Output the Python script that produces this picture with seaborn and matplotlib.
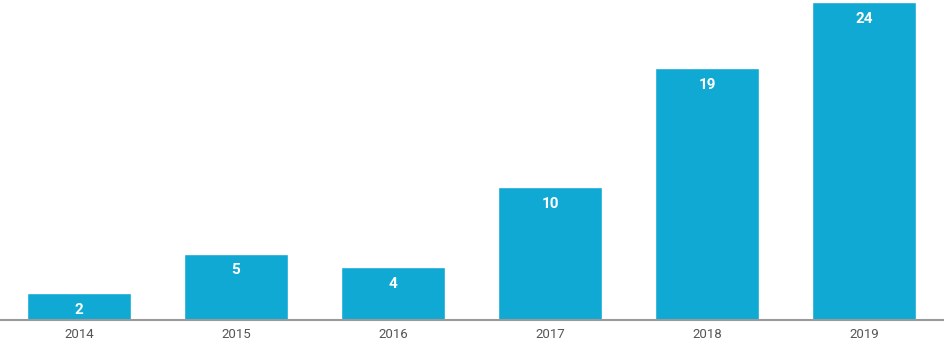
import matplotlib
matplotlib.use("Agg")
import matplotlib.pyplot as plt
import seaborn as sns
import pandas as pd

# data
years = ["2014", "2015", "2016", "2017", "2018", "2019"]
counts = [2, 5, 4, 10, 19, 24]

bar_color = "#10a9d3"

sns.set_theme(style="white")
plt.rcParams["font.family"] = ["Roboto", "DejaVu Sans"]

df = pd.DataFrame({"year": years, "count": counts})

fig = plt.figure(figsize=(9.45, 3.44), dpi=100)
ax = fig.add_axes([0, 24 / 344, 1, 320 / 344])

sns.barplot(data=df, x="year", y="count", color=bar_color, width=0.66,
            saturation=1, ax=ax)

# value labels inside the top of each bar
for i, v in enumerate(counts):
    ax.annotate(str(v), (i, v), xytext=(0, -7), textcoords="offset points",
                ha="center", va="top", color="white", fontsize=11,
                fontweight="bold")

ax.set_xlim(-0.503, 5.516)
ax.set_ylim(0, 24.15)
ax.set_xlabel("")
ax.set_ylabel("")
ax.set_yticks([])
ax.tick_params(axis="x", length=0, pad=6, labelsize=9.5, labelcolor="#555555")

for side in ["top", "left", "right"]:
    ax.spines[side].set_visible(False)
ax.spines["bottom"].set_color("#9a9a9a")
ax.spines["bottom"].set_linewidth(1.5)

fig.savefig("out.png", dpi=100)
